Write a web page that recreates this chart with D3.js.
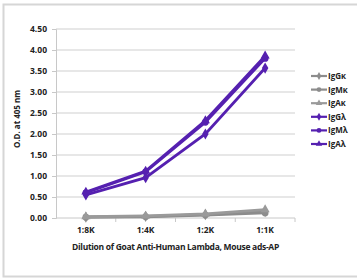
<!DOCTYPE html>
<html>
<head>
<meta charset="utf-8">
<script src="https://cdn.jsdelivr.net/npm/d3@7"></script>
<style>
  body { margin: 0; background: #fff; }
  svg text { font-family: "Open Sans", "DejaVu Sans", sans-serif; font-weight: bold; fill: #222; }
</style>
</head>
<body>
<div id="chart"></div>
<script>
// dilutions along the x axis
const dilutions = ["1:8K", "1:4K", "1:2K", "1:1K"];
const yTicks = [0, 0.5, 1, 1.5, 2, 2.5, 3, 3.5, 4, 4.5];

// O.D. readings, one array per antibody
const igGk = [0.02, 0.04, 0.08, 0.15];
const igMk = [0.02, 0.03, 0.07, 0.12];
const igAk = [0.03, 0.05, 0.10, 0.20];
const igGl = [0.55, 0.96, 2.00, 3.57];
const igMl = [0.60, 1.10, 2.28, 3.80];
const igAl = [0.62, 1.12, 2.32, 3.86];

const seriesNames = ["IgG\u03ba", "IgM\u03ba", "IgA\u03ba", "IgG\u03bb", "IgM\u03bb", "IgA\u03bb"];
const seriesValues = [igGk, igMk, igAk, igGl, igMl, igAl];
const seriesShapes = ["diamond", "circle", "triangle", "diamond", "circle", "triangle"];
const seriesColors = ["#8c8c8c", "#8c8c8c", "#9a9a9a", "#5520b0", "#5520b0", "#5520b0"];

const W = 357, H = 278;
const margin = { top: 29, left: 56, right: 62, bottom: 60 };
const plotW = 295 - margin.left;
const plotH = 218 - margin.top;

const svg = d3.select("#chart").append("svg")
  .attr("width", W).attr("height", H);

// outer frame
svg.append("rect")
  .attr("x", 3.5).attr("y", 4.5)
  .attr("width", W).attr("height", 272)
  .attr("fill", "none").attr("stroke", "#d6d6d6").attr("stroke-width", 2);

const g = svg.append("g").attr("transform", "translate(" + margin.left + "," + margin.top + ")");

const x = d3.scaleBand().domain(dilutions).range([0, plotW]);
const y = d3.scaleLinear().domain([0, 4.5]).range([plotH, 0]);

// gridlines
g.selectAll("line.grid").data(yTicks.slice(1)).enter().append("line")
  .attr("class", "grid")
  .attr("x1", 0).attr("x2", plotW)
  .attr("y1", d => y(d)).attr("y2", d => y(d))
  .attr("stroke", "#cfcfcf").attr("stroke-width", 1);

// y axis
const yAxis = g.append("g")
  .call(d3.axisLeft(y).tickValues(yTicks).tickFormat(d3.format(".2f")).tickSize(4).tickPadding(5));
yAxis.select(".domain").attr("stroke", "#c8c8c8");
yAxis.selectAll(".tick line").attr("stroke", "#c8c8c8");
yAxis.selectAll("text").style("font-size", "8.5px");

// x axis, ticks at the band edges
const xAxis = g.append("g").attr("transform", "translate(0," + plotH + ")");
xAxis.append("line").attr("x1", 0).attr("x2", plotW)
  .attr("stroke", "#c8c8c8");
xAxis.selectAll("line.tk").data(dilutions).enter().append("line")
  .attr("class", "tk")
  .attr("x1", d => x(d) + x.bandwidth()).attr("x2", d => x(d) + x.bandwidth())
  .attr("y1", 0).attr("y2", 4).attr("stroke", "#c8c8c8");
xAxis.selectAll("text").data(dilutions).enter().append("text")
  .attr("x", d => x(d) + x.bandwidth() / 2)
  .attr("y", 15)
  .attr("text-anchor", "middle")
  .style("font-size", "8.5px")
  .text(d => d);

// axis titles
svg.append("text")
  .attr("x", margin.left + plotW / 2).attr("y", 250)
  .attr("text-anchor", "middle")
  .style("font-size", "8.5px")
  .style("letter-spacing", "-0.3px")
  .text("Dilution of Goat Anti-Human Lambda, Mouse ads-AP");

svg.append("text")
  .attr("transform", "translate(20,119) rotate(-90)")
  .attr("text-anchor", "middle")
  .style("font-size", "8px")
  .text("O.D. at 405 nm");

const symbolType = { diamond: d3.symbolDiamond, circle: d3.symbolCircle, triangle: d3.symbolTriangle };

const line = d3.line()
  .x((d, i) => x(dilutions[i]) + x.bandwidth() / 2)
  .y(d => y(d));

seriesValues.forEach(function (vals, s) {
  g.append("path")
    .attr("d", line(vals))
    .attr("fill", "none")
    .attr("stroke", seriesColors[s])
    .attr("stroke-width", 2.8);
  g.selectAll("path.m" + s).data(vals).enter().append("path")
    .attr("class", "m" + s)
    .attr("transform", (d, i) => "translate(" + (x(dilutions[i]) + x.bandwidth() / 2) + "," + y(d) + ")")
    .attr("d", d3.symbol().type(symbolType[seriesShapes[s]]).size(36))
    .attr("fill", seriesColors[s]);
});

// legend
const legend = svg.append("g").attr("transform", "translate(311,76)");
seriesNames.forEach(function (name, i) {
  const row = legend.append("g").attr("transform", "translate(0," + (i * 13.6) + ")");
  row.append("line").attr("x1", 0).attr("x2", 16)
    .attr("stroke", seriesColors[i]).attr("stroke-width", 2.2);
  row.append("path")
    .attr("transform", "translate(8,0)")
    .attr("d", d3.symbol().type(symbolType[seriesShapes[i]]).size(18))
    .attr("fill", seriesColors[i]);
  row.append("text")
    .attr("x", 17).attr("y", 3)
    .style("font-size", "8px")
    .text(name);
});
</script>
</body>
</html>
